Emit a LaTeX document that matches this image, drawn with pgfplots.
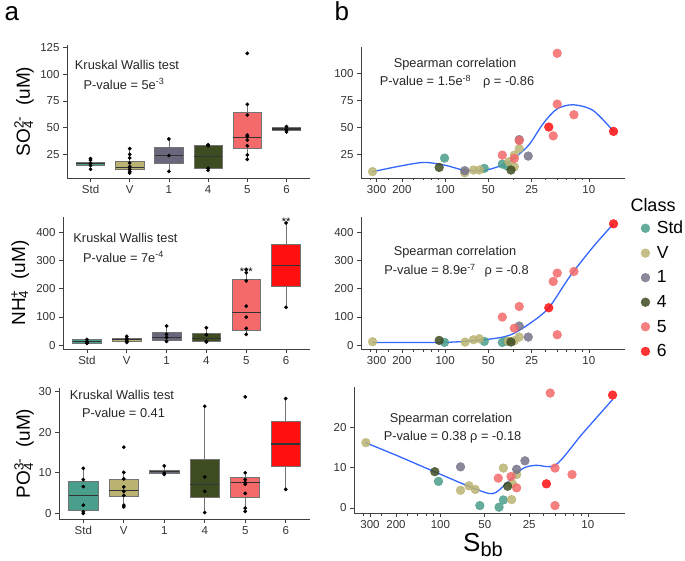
\documentclass[border=0pt]{standalone}
\usepackage{fontspec}
\setmainfont{Liberation Sans}
\usepackage{pgfplots}
\pgfplotsset{compat=1.18}

\definecolor{cStd}{HTML}{4A9E8C}
\definecolor{cV}{HTML}{BAB372}
\definecolor{cOne}{HTML}{76738A}
\definecolor{cFour}{HTML}{3E4C22}
\definecolor{cFive}{HTML}{F46A6A}
\definecolor{cSix}{HTML}{FF0F0F}
\definecolor{fitblue}{HTML}{3366FF}

\newlength\ssa \newlength\ssb
\newcommand\supsub[2]{\settowidth\ssa{\textsuperscript{#1}}\settowidth\ssb{\textsubscript{#2}}%
  \ifdim\ssb>\ssa\ssa=\ssb\fi\rlap{\textsuperscript{#1}}\rlap{\textsubscript{#2}}\hspace{\ssa}}

% one box: left, centre, right, lower whisker, q1, median, q3, upper whisker, fill
\newcommand\bx[9]{%
  \addplot[draw=black!55, line width=0.6pt] coordinates {(#2,#4)(#2,#5)};
  \addplot[draw=black!55, line width=0.6pt] coordinates {(#2,#7)(#2,#8)};
  \addplot[fill=#9, draw=black!55, line width=0.6pt] coordinates {(#1,#5)(#3,#5)(#3,#7)(#1,#7)} -- cycle;
  \addplot[draw=black!80, line width=1.1pt] coordinates {(#1,#6)(#3,#6)};}

\pgfplotsset{
  gg/.style={scale only axis, anchor=south west, clip=false,
    axis x line*=bottom, axis y line*=left,
    axis line style={-, black!75, line width=0.6pt},
    tick style={black!75, line width=0.6pt}, tick align=outside,
    major tick length=4pt, minor tick length=2.5pt,
    tick label style={font=\fontsize{11.5}{13}\selectfont, text=black!80},
    /pgf/number format/assume math mode=true,
    ylabel style={font=\fontsize{19}{20}\selectfont, anchor=center}},
  bxax/.style={gg, xmin=-0.6, xmax=5.6, xtick={0,...,5},
    xticklabels={Std,V,1,4,5,6}},
  % S_bb axis: reversed log scale, plotted at -log10(S_bb)
  sbax/.style={gg, x filter/.expression={-log10(x)},
    xmin=-2.5855, xmax=-0.7482,
    xtick={-2.4771,-2.3010,-2,-1.6990,-1.3979,-1},
    xticklabels={300,200,100,50,25,10},
    minor xtick={-2.5228,-2.3979,-2.2219,-2.1550,-2.0969,-2.0458,
      -1.5229,-1.3010,-1.2218,-1.1549,-1.0969,-1.0458}},
  sc/.style={only marks, mark=*, mark size=4.4pt, color=#1,
    mark options={solid, draw=#1, fill=#1, opacity=0.85}},
  dots/.style={only marks, mark=*, mark size=1.7pt, black},
  loess/.style={smooth, fitblue, line width=1.3pt, forget plot},
}

\begin{document}
\begin{tikzpicture}
\path[use as bounding box] (0,0) rectangle (685pt,560pt);

% ---------- a: boxplots ----------
\begin{axis}[bxax, at={(67pt,382pt)}, width=243pt, height=133pt,
  ymin=2.8, ymax=127.5, ytick={25,50,75,100,125},
  ylabel={SO\supsub{2-}{4}\ \ (uM)},
  ylabel style={at={(axis description cs:-0.177,0.5)}}]
\bx{-0.36}{0}{0.36}{11}{14.7}{16.2}{17.5}{21}{cStd}
\bx{0.64}{1}{1.36}{7.5}{10.6}{12.5}{18}{30}{cV}
\bx{1.64}{2}{2.36}{9}{16.2}{23.8}{31.9}{39.4}{cOne!90!black}
\bx{2.64}{3}{3.36}{10}{12}{22.8}{33}{34}{cFour}
\bx{3.64}{4}{4.36}{20.3}{30.6}{40.6}{64}{72}{cFive}
\bx{4.64}{5}{5.36}{46}{47.8}{48.7}{50}{51}{cSix}
\addplot[dots] coordinates {
  (0,21)(0,19.5)(0,16.5)(0,14.5)(0,11)
  (1,30.3)(1,25)(1,21.6)(1,16.9)(1,13.4)(1,11)(1,9)(1,7.5)
  (2,39.4)(2,23.8)(2,9)
  (3,34)(3,33)(3,12)(3,10)
  (4,119.7)(4,71.9)(4,61.9)(4,43)(4,41.5)(4,38.4)(4,33)(4,24.4)(4,20.3)
  (5,51)(5,48)(5,46)};
\end{axis}

\begin{axis}[bxax, at={(63pt,211pt)}, width=247pt, height=132pt,
  ymin=-14, ymax=455, ytick={0,100,200,300,400},
  ylabel={NH\supsub{+}{4}\ \ (uM)},
  ylabel style={at={(axis description cs:-0.174,0.5)}}]
\bx{-0.36}{0}{0.36}{6}{7}{13}{19}{20}{cStd}
\bx{0.64}{1}{1.36}{9.5}{13}{19}{23.7}{30.8}{cV}
\bx{1.64}{2}{2.36}{10.7}{17.8}{27}{47}{67.5}{cOne!90!black}
\bx{2.64}{3}{3.36}{10.7}{13}{22.5}{41}{61.5}{cFour}
\bx{3.64}{4}{4.36}{38}{53}{117}{234}{268}{cFive}
\bx{4.64}{5}{5.36}{134}{207}{283}{358.6}{434}{cSix}
\addplot[dots] coordinates {
  (0,20)(0,12)(0,8)(0,6)
  (1,30.8)(1,23.7)(1,17.8)(1,12)(1,9.5)
  (2,67.5)(2,38)(2,27)(2,13)
  (3,61.5)(3,36.7)(3,13)(3,10.7)
  (4,268)(4,257)(4,228)(4,138)(4,99)(4,59)(4,38)
  (5,434)(5,134)};
\node[font=\fontsize{11}{11}\selectfont] at (axis cs:4,262) {***};
\node[font=\fontsize{11}{11}\selectfont] at (axis cs:5,438) {**};
\end{axis}

\begin{axis}[bxax, at={(59pt,41pt)}, width=251pt, height=131pt,
  ymin=-1.4, ymax=30.9, ytick={0,10,20,30},
  ylabel={PO\supsub{3-}{4}\ \ (uM)},
  ylabel style={at={(axis description cs:-0.139,0.5)}}]
\bx{-0.36}{0}{0.36}{0}{0.8}{4.3}{7.8}{11.1}{cStd}
\bx{0.64}{1}{1.36}{1.6}{4.2}{5.6}{8.5}{10.1}{cV}
\bx{1.64}{2}{2.36}{9.6}{9.9}{10.4}{10.7}{11.7}{cOne!90!black}
\bx{2.64}{3}{3.36}{0.2}{4.0}{7.2}{13.4}{26.4}{cFour}
\bx{3.64}{4}{4.36}{0.5}{4.0}{7.6}{8.8}{10}{cFive}
\bx{4.64}{5}{5.36}{5.9}{11.5}{17.1}{22.7}{28.3}{cSix}
\addplot[dots] coordinates {
  (0,11.1)(0,8.3)(0,6.6)(0,2.0)(0,0.4)(0,0)
  (1,16.3)(1,10.1)(1,8.5)(1,6.5)(1,5.4)(1,4.4)(1,2.0)(1,1.6)
  (2,11.7)(2,9.9)(2,9.6)
  (3,26.4)(3,9.0)(3,5.4)(3,0.2)
  (4,28.7)(4,10)(4,8.3)(4,7.6)(4,7.2)(4,4.9)(4,1.3)(4,0.5)
  (5,28.3)(5,5.9)};
\end{axis}

% ---------- b: Spearman scatter ----------
\begin{axis}[sbax, at={(361pt,382pt)}, width=264pt, height=131.3pt,
  ymin=3.2, ymax=124.8, ytick={25,50,75,100}]
\addplot[sc=cStd] coordinates {(101,21.6)(53.4,12.1)(40,16.1)(37.3,14.6)};
\addplot[sc=cV] coordinates {(320,9.1)(73,8)(63.5,10.6)(57.8,10.6)(36,18.3)(33,24.4)(33,13.6)(30.5,30.5)};
\addplot[sc=cOne] coordinates {(73,10)(30.5,38.8)(26.4,23.5)};
\addplot[sc=cFour] coordinates {(110,13)(34.8,10.6)};
\addplot[sc=cFive] coordinates {(40,24.4)(33,21.3)(30.5,37.9)(17.7,42.2)(16.6,118.7)(16.6,71.6)(12.7,61.8)};
\addplot[sc=cSix] coordinates {(19,50.4)(6.73,46.4)};
\addplot[loess] coordinates {(320,9)(220,13.5)(141.6,17.6)(100,15)(74.6,10.6)(54.2,10)
  (37.3,16.7)(30.1,26)(25.7,35)(20.8,53.5)(16.7,67)(12.9,71)(9.33,65.7)(6.73,46.4)};
\end{axis}

\begin{axis}[sbax, at={(361pt,211pt)}, width=264pt, height=132pt,
  ymin=-14, ymax=455, ytick={0,100,200,300,400},
  legend style={at={(1.06,0.985)}, anchor=north west, draw=none, fill=none,
    inner sep=0pt, font=\fontsize{17.5}{18}\selectfont, row sep=7pt},
  legend cell align=left,
  legend image code/.code={\draw[#1] plot coordinates {(0pt,0pt)};
    \path[draw=none, fill=none] (0pt,0pt) -- (9.5pt,0pt);}]
\addplot[sc=cStd] coordinates {(101,9.5)(53.4,13)(40,9.5)(37.3,14.2)};
\addlegendentry{Std}
\addplot[sc=cV] coordinates {(320,11.8)(72.6,10.7)(63.5,19)(57.8,22.5)(36.5,14)(33,15.4)(30.5,28.4)};
\addlegendentry{V}
\addplot[sc=cOne] coordinates {(30.5,67.5)(26.4,28.4)};
\addlegendentry{1}
\addplot[sc=cFour] coordinates {(110,16.6)(34.8,10.7)};
\addlegendentry{4}
\addplot[sc=cFive] coordinates {(40,99.4)(33,60)(30.5,137)(17.7,226)(16.6,255.6)(16.6,36.7)(12.7,261.5)};
\addlegendentry{5}
\addplot[sc=cSix] coordinates {(19,132.5)(6.73,430.8)};
\addlegendentry{6}
\addplot[loess] coordinates {(320,9.5)(101,9.5)(51.3,20)(35.4,35.5)(25.7,77)(19,132.5)
  (13.6,242.6)(9.33,349)(6.73,431)};
\end{axis}

\begin{axis}[sbax, at={(354pt,47pt)}, width=271pt, height=126pt,
  ymin=-1.24, ymax=30, ytick={0,10,20}]
\addplot[sc=cStd] coordinates {(103,6.6)(54,0.6)(40,0.2)(37.4,2.0)};
\addplot[sc=cV] coordinates {(320,16.2)(73,4.4)(64,5.5)(58,4.6)(37.4,9.9)(32.9,2.1)(32.5,6.0)(30.4,8.3)};
\addplot[sc=cOne] coordinates {(73,10.2)(30.4,9.6)(26.7,11.7)};
\addplot[sc=cFour] coordinates {(109,9.0)(35,5.4)};
\addplot[sc=cFive] coordinates {(40.5,7.4)(33.2,7.8)(30.4,5.0)(18,28.5)(16.7,9.9)(16.7,0.6)(12.8,8.3)};
\addplot[sc=cSix] coordinates {(19.1,6.0)(6.8,28.0)};
\addplot[loess] coordinates {(322,16.2)(200,13.1)(102,8.5)(60.4,5.0)(44.3,3.55)(35.9,6.0)
  (27.7,9.75)(22.5,10.6)(16.5,10.7)(10.9,18.4)(6.8,26.9)};
\end{axis}

% ---------- annotations ----------
\node[anchor=base west, font=\fontsize{26}{26}\selectfont] at (1pt,539pt) {a};
\node[anchor=base west, font=\fontsize{26}{26}\selectfont] at (331pt,539pt) {b};
\begin{scope}[every node/.style={font=\fontsize{12.8}{14}\selectfont, text=black!85}]
\node at (127pt,495pt) {Kruskal Wallis test};
\node at (124pt,476pt) {P-value = 5e\textsuperscript{-3}};
\node at (125.5pt,322pt) {Kruskal Wallis test};
\node at (123.5pt,303pt) {P-value = 7e\textsuperscript{-4}};
\node at (122pt,165pt) {Kruskal Wallis test};
\node at (123.5pt,147pt) {P-value = 0.41};
\node at (455pt,496pt) {Spearman correlation};
\node at (457pt,478pt) {P-value = 1.5e\textsuperscript{-8}\hspace{12pt}ρ = -0.86};
\node at (455pt,308pt) {Spearman correlation};
\node at (456.5pt,289pt) {P-value = 8.9e\textsuperscript{-7}\hspace{9pt}ρ = -0.8};
\node at (451pt,141pt) {Spearman correlation};
\node at (452.5pt,123pt) {P-value = 0.38 ρ = -0.18};
\end{scope}
\node[font=\fontsize{18}{18}\selectfont] at (653pt,355pt) {Class};
\node[anchor=base west, inner sep=0pt, text height=19pt, text depth=5pt,
  font=\fontsize{26}{26}\selectfont] at (463pt,9pt)
  {S\raisebox{-5pt}{\fontsize{20}{20}\selectfont bb}};
\end{tikzpicture}
\end{document}
